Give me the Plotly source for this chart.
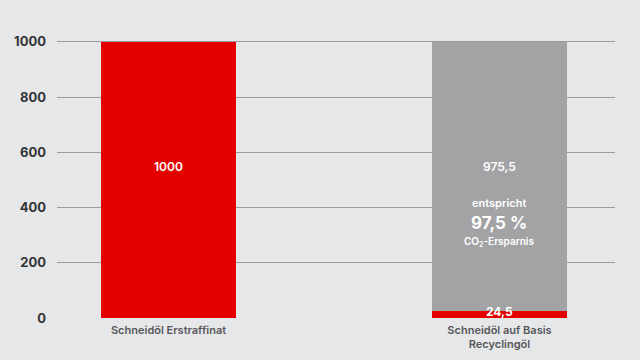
import plotly.graph_objects as go

categories = ["Schneidöl Erstraffinat", "Schneidöl auf Basis<br>Recyclingöl"]
red_values = [1000, 24.5]
gray_values = [0, 975.5]
tick_vals = [0, 200, 400, 600, 800, 1000]
tick_text = ["0", "200", "400", "600", "800", "1000"]

RED = "#e50000"
GRAY = "#a3a3a6"
BG = "#e6e7e9"
FONT = "Inter"

fig = go.Figure()
fig.add_trace(go.Bar(x=categories, y=red_values, marker=dict(color=RED, line=dict(width=0)),
                     width=0.408, hoverinfo="skip"))
fig.add_trace(go.Bar(x=categories, y=gray_values, marker=dict(color=GRAY, line=dict(width=0)),
                     width=0.408, hoverinfo="skip"))

ann_font = dict(family=FONT, color="white", weight=600)
annotations = [
    dict(x=categories[0], y=548, text="1000", font=dict(size=12, **ann_font)),
    dict(x=categories[1], y=548, text="975,5", font=dict(size=12, **ann_font)),
    dict(x=categories[1], y=418, text="entspricht", font=dict(size=11, **ann_font)),
    dict(x=categories[1], y=345, text="97,5 %", font=dict(size=17, family=FONT, color="white", weight=700)),
    dict(x=categories[1], y=276, text="CO<sub>2</sub>-Ersparnis", font=dict(size=10, **ann_font)),
    dict(x=categories[1], y=24, text="24,5", font=dict(size=12, family=FONT, color="white", weight=700)),
]
for a in annotations:
    a.update(xref="x", yref="y", showarrow=False, xanchor="center", yanchor="middle")

fig.update_layout(
    width=640, height=360,
    barmode="stack",
    showlegend=False,
    paper_bgcolor=BG, plot_bgcolor=BG,
    margin=dict(l=57, r=25, t=28, b=42),
    annotations=annotations,
    xaxis=dict(range=[-0.337, 1.349], showgrid=False, zeroline=False, showline=False,
               automargin=False,
               ticks="", tickfont=dict(family=FONT, size=11, color="#58585b", weight=600),
               ticklabelstandoff=4),
    yaxis=dict(range=[0, 1050], tickvals=tick_vals, ticktext=tick_text,
               automargin=False,
               showgrid=True, gridcolor="#9c9c9e", gridwidth=1,
               zeroline=False, showline=False, ticks="",
               tickfont=dict(family=FONT, size=13, color="#333335", weight=700),
               ticklabelstandoff=10),
)

fig.write_html("out.html", config={"displayModeBar": False},
               post_script="document.body.style.margin='0';document.body.style.background='%s';" % BG)
